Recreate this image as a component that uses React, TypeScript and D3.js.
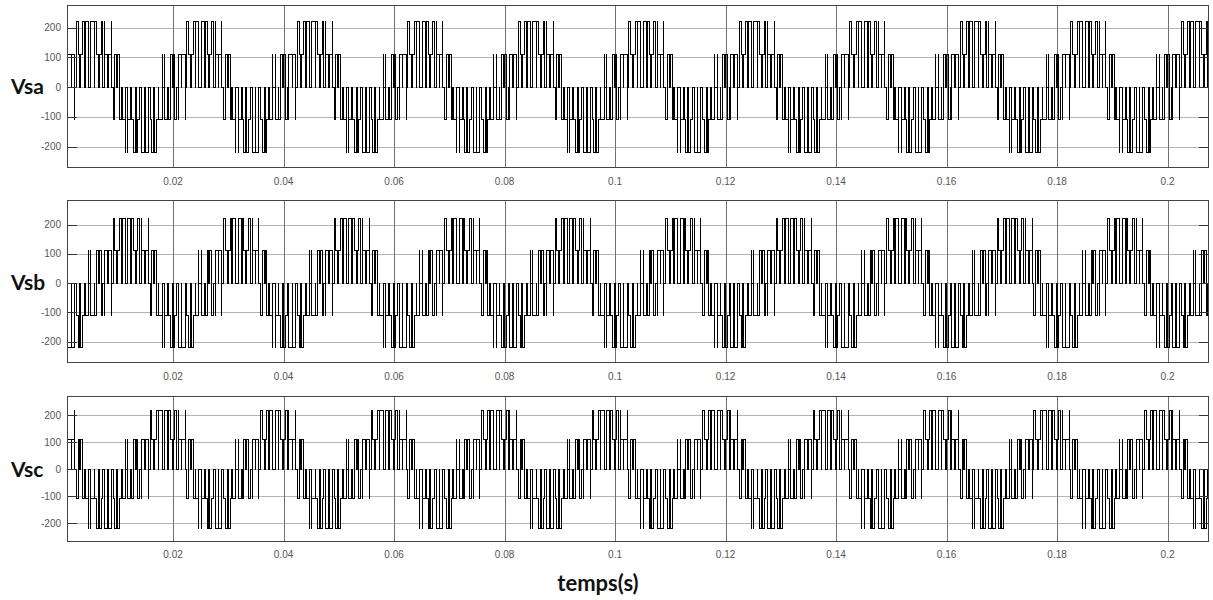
import * as React from "react";
import * as d3 from "d3";

// two-level inverter feeding the stator: phase voltages take 0, ±Vdc/3, ±2Vdc/3
const phaseNames = ["Vsa", "Vsb", "Vsc"];
const dcBusVolts = 330;
const fundamentalPeriod = 0.02; // s
const phaseAZeroCrossing = -0.0001; // s, rising zero crossing of Vsa

// leg-a duty over one fundamental period, 12 carrier periods (legs b, c lag by 4 and 8)
const legDuty = [0.5, 0.72, 0.89, 0.95, 0.89, 0.73, 0.5, 0.27, 0.11, 0.05, 0.11, 0.28];
const legLagSlots = [0, 4, 8];

const xTicks = [0.02, 0.04, 0.06, 0.08, 0.1, 0.12, 0.14, 0.16, 0.18, 0.2];
const yTicks = [-200, -100, 0, 100, 200];
const xDomain = [0.0008, 0.2075];

const W = 1213;
const H = 600;
const left = 67;
const right = 1209;

const panelLayout = [
  { top: 5, bottom: 168, yMin: -272, yMax: 276, labelY: 94, tickY: 185 },
  { top: 200, bottom: 363, yMin: -273, yMax: 284, labelY: 290, tickY: 380 },
  { top: 396, bottom: 542, yMin: -270, yMax: 272, labelY: 477, tickY: 558 },
];

// phase voltages built from the three leg switching states
function buildPhaseVoltages() {
  const n = legDuty.length;
  const tc = fundamentalPeriod / n;
  const out: [number, number][][] = [[], [], []];
  for (let j = -n; j < n * 12; j++) {
    const start = phaseAZeroCrossing + (j - 0.5) * tc;
    const ons = legLagSlots.map((lag) => {
      const d = legDuty[(((j - lag) % n) + n) % n];
      return [start + ((1 - d) / 2) * tc, start + ((1 + d) / 2) * tc];
    });
    const cuts = [start, ...ons.flat()].sort((a, b) => a - b);
    cuts.forEach((t) => {
      const s = ons.map(([a, b]) => (t >= a && t < b ? 1 : 0));
      const va = ((2 * s[0] - s[1] - s[2]) * dcBusVolts) / 3;
      const vb = ((2 * s[1] - s[0] - s[2]) * dcBusVolts) / 3;
      const vc = ((2 * s[2] - s[0] - s[1]) * dcBusVolts) / 3;
      out[0].push([t, va]);
      out[1].push([t, vb]);
      out[2].push([t, vc]);
    });
  }
  return out;
}

const waves = buildPhaseVoltages();

const Panel = ({ idx }: { idx: number }) => {
  const lay = panelLayout[idx];
  const x = d3.scaleLinear().domain(xDomain).range([left, right]);
  const y = d3.scaleLinear().domain([lay.yMin, lay.yMax]).range([lay.bottom, lay.top]);
  const line = d3
    .line<[number, number]>()
    .x((d) => x(d[0]))
    .y((d) => y(d[1]))
    .curve(d3.curveStepAfter);
  const clipId = `clip${idx}`;
  const py = (v: number) => Math.round(y(v)) + 0.5;
  return (
    <g>
      <defs>
        <clipPath id={clipId}>
          <rect x={left} y={lay.top} width={right - left} height={lay.bottom - lay.top} />
        </clipPath>
      </defs>
      <rect x={left} y={lay.top} width={right - left} height={lay.bottom - lay.top} fill="#fff" />
      {yTicks.map((v) => (
        <line key={"h" + v} x1={left} x2={right} y1={py(v)} y2={py(v)} stroke="#b4b4b4" />
      ))}
      {xTicks.map((v) => (
        <line key={"v" + v} x1={Math.round(x(v)) + 0.5} x2={Math.round(x(v)) + 0.5} y1={lay.top} y2={lay.bottom} stroke="#707070" />
      ))}
      <path d={line(waves[idx]) || ""} fill="none" stroke="#000" strokeWidth={1} clipPath={`url(#${clipId})`} shapeRendering="crispEdges" />
      {yTicks.map((v) => (
        <g key={"t" + v}>
          <line x1={left} x2={left + 10} y1={py(v)} y2={py(v)} stroke="#333" />
          <line x1={right - 10} x2={right} y1={py(v)} y2={py(v)} stroke="#333" />
          <text x={left - 6} y={y(v) + 3.5} textAnchor="end" fontSize={10} fill="#555" fontFamily="Liberation Sans, Arial, sans-serif">
            {String(v)}
          </text>
        </g>
      ))}
      {xTicks.map((v) => (
        <text key={"xl" + v} x={x(v)} y={lay.tickY} textAnchor="middle" fontSize={10} fill="#555" fontFamily="Liberation Sans, Arial, sans-serif">
          {String(v)}
        </text>
      ))}
      <rect x={left + 0.5} y={lay.top + 0.5} width={right - left - 1} height={lay.bottom - lay.top - 1} fill="none" stroke="#444" />
      <text x={11} y={lay.labelY} fontSize={21} fontWeight="bold" fill="#111" fontFamily="Lato, Open Sans, sans-serif">
        {phaseNames[idx]}
      </text>
    </g>
  );
};

export default function App() {
  return (
    <svg width={W} height={H} style={{ position: "absolute", left: 0, top: 0, background: "#fff" }}>
      <rect width={W} height={H} fill="#fff" />
      {phaseNames.map((_, i) => (
        <Panel key={i} idx={i} />
      ))}
      <text x={598} y={591} textAnchor="middle" fontSize={22} fontWeight="bold" fill="#111" fontFamily="Lato, Open Sans, sans-serif">
        temps(s)
      </text>
    </svg>
  );
}
